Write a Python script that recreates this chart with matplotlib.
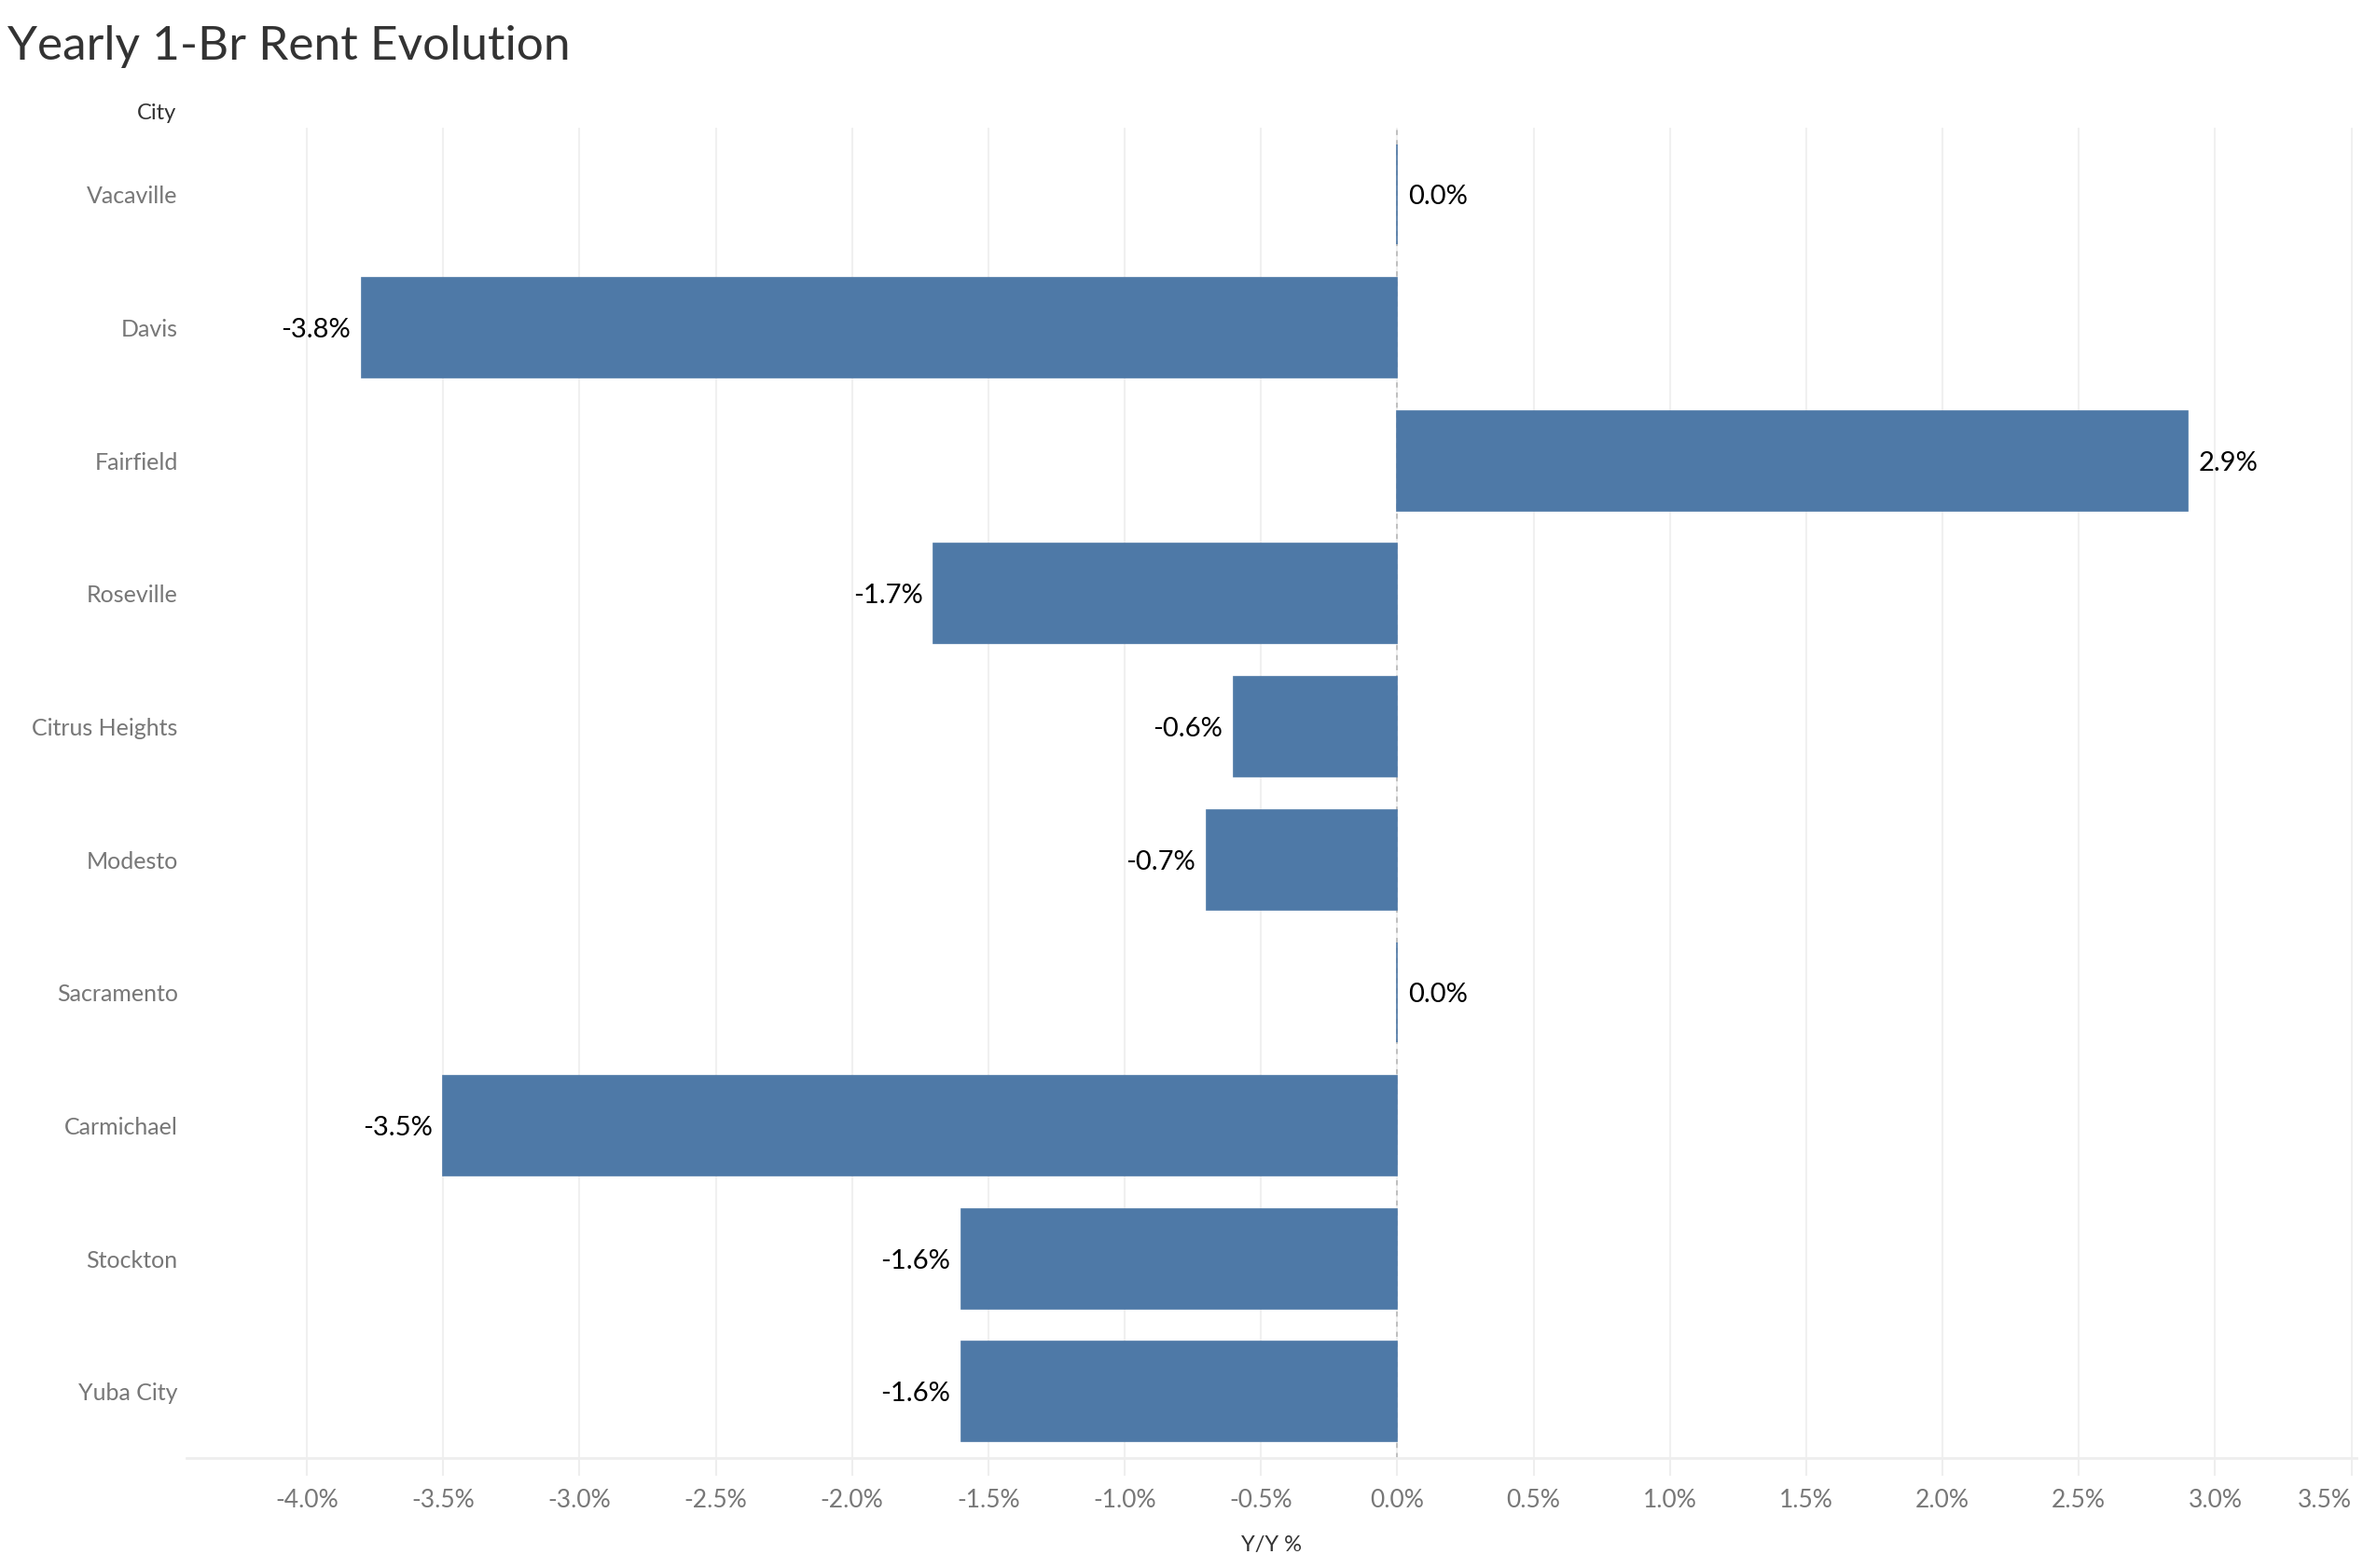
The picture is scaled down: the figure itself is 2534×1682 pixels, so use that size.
import numpy as np
import matplotlib.pyplot as plt

plt.rcParams['font.family'] = ['Lato', 'DejaVu Sans']

cities = ['Vacaville', 'Davis', 'Fairfield', 'Roseville', 'Citrus Heights',
          'Modesto', 'Sacramento', 'Carmichael', 'Stockton', 'Yuba City']
yoy = [0.0, -3.8, 2.9, -1.7, -0.6, -0.7, 0.0, -3.5, -1.6, -1.6]
xticks = [-4.0, -3.5, -3.0, -2.5, -2.0, -1.5, -1.0, -0.5, 0.0, 0.5, 1.0, 1.5, 2.0, 2.5, 3.0, 3.5]

fig = plt.figure(figsize=(25.34, 16.82), dpi=100)
ax = fig.add_axes([0.0791, 0.0701, 0.9183, 0.8482])

y = np.arange(len(cities))
ax.barh(y, yoy, height=0.75, color='#4e79a7', edgecolor='#4e79a7', linewidth=1.2, zorder=3)
ax.set_ylim(len(cities) - 0.5, -0.5)
ax.set_xlim(-4.44, 3.52)

ax.set_xticks(xticks)
ax.set_xticklabels(['%.1f%%' % t for t in xticks], color='#777777', fontsize=19)
ax.get_xticklabels()[-1].set_horizontalalignment('right')
ax.set_yticks(y)
ax.set_yticklabels(cities, color='#777777', fontsize=18)
ax.tick_params(axis='y', length=0, pad=7)
ax.tick_params(axis='x', length=14, color='#eeeeee', width=1.5, pad=10)

for s in ['top', 'right', 'left']:
    ax.spines[s].set_visible(False)
ax.spines['bottom'].set_color('#eeeeee')
ax.spines['bottom'].set_linewidth(2)

ax.grid(axis='x', color='#f0f0f0', linewidth=1.5, zorder=0)
ax.axvline(0, color='#bbbbbb', linestyle=(0, (3, 3)), linewidth=1.3, zorder=2)

for yi, v in zip(y, yoy):
    if v < 0:
        ax.text(v - 0.04, yi, '%.1f%%' % v, ha='right', va='center_baseline', fontsize=21, color='black')
    else:
        ax.text(v + 0.04, yi, '%.1f%%' % v, ha='left', va='center_baseline', fontsize=21, color='black')

ax.set_xlabel('Y/Y %', fontsize=17, color='#333333', labelpad=18)
fig.text(117 / 1568, 1 - 75 / 1041, 'City', ha='right', va='center', fontsize=17, color='#333333')
fig.text(5 / 1568, 1 - 31 / 1041, 'Yearly 1-Br Rent Evolution', ha='left', va='center',
         fontsize=37, color='#333333')

fig.savefig('out.png', dpi=100)
